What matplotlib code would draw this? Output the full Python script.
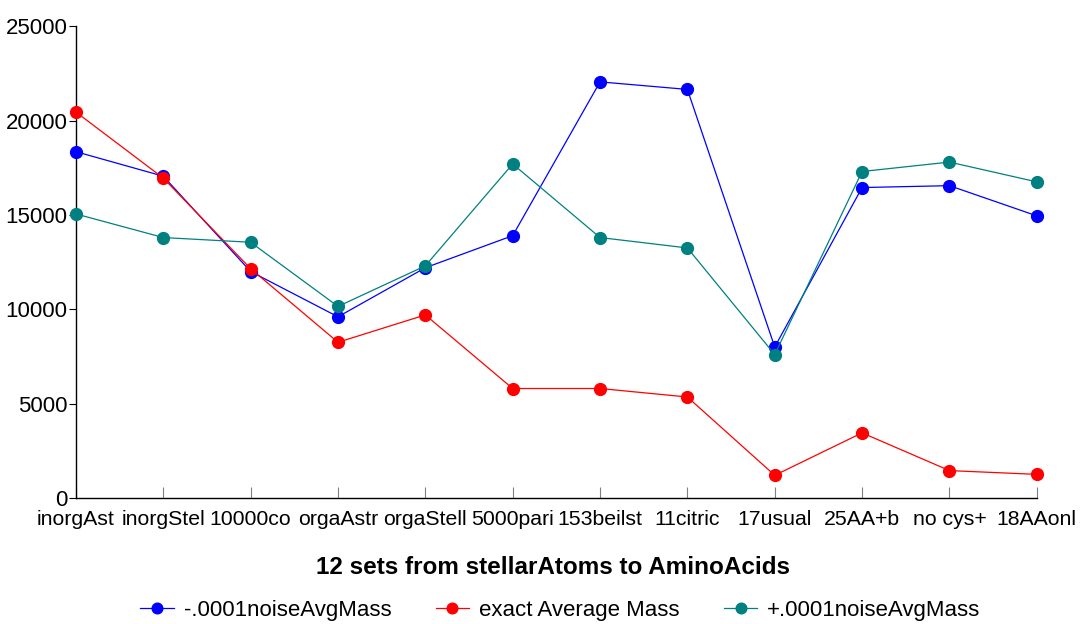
import matplotlib
matplotlib.use("Agg")
import matplotlib.pyplot as plt

categories = ["inorgAst", "inorgStel", "10000co", "orgaAstr", "orgaStell", "5000pari",
              "153beilst", "11citric", "17usual", "25AA+b", "no cys+", "18AAonl"]
minus_noise = [18350, 17050, 12000, 9600, 12200, 13900, 22050, 21650, 8000, 16450, 16550, 14950]
exact_avg = [20450, 16950, 12150, 8250, 9700, 5800, 5800, 5350, 1200, 3450, 1450, 1250]
plus_noise = [15050, 13800, 13550, 10150, 12300, 17700, 13800, 13250, 7600, 17300, 17800, 16750]
series_names = ["-.0001noiseAvgMass", "exact Average Mass", "+.0001noiseAvgMass"]
yticks = [0, 5000, 10000, 15000, 20000, 25000]

plt.rcParams['font.family'] = ['Liberation Sans', 'DejaVu Sans']

fig = plt.figure(figsize=(10.82, 6.24), dpi=100)
ax = fig.add_axes([0.0702, 0.202, 0.888, 0.756])

x = list(range(len(categories)))
colors = ["#0000ff", "#ff0000", "#008080"]
for vals, name, c in zip([minus_noise, exact_avg, plus_noise], series_names, colors):
    ax.plot(x, vals, color=c, lw=0.9, marker='o', markersize=8.5, label=name, clip_on=False, zorder=3)

ax.set_xlim(0, len(categories) - 1)
ax.set_ylim(0, 25000)
ax.set_yticks(yticks)
ax.set_yticklabels([str(v) for v in yticks], fontsize=16)
ax.set_xticks(x)
ax.set_xticklabels(categories, fontsize=15.3)
ax.tick_params(axis='x', direction='in', length=8, color='#808080', pad=9)
ax.tick_params(axis='y', direction='out', length=5, color='black', pad=1)
for s in ['top', 'right']:
    ax.spines[s].set_visible(False)
for s in ['left', 'bottom']:
    ax.spines[s].set_color('black')
    ax.spines[s].set_linewidth(1.0)

fig.text(0.511, 0.091, "12 sets from stellarAtoms to AminoAcids", ha='center', va='center',
         fontsize=17.5, fontweight='bold')

leg = fig.legend(loc='center', bbox_to_anchor=(0.518, 0.022), ncol=3, frameon=False,
                 fontsize=16, handlelength=1.5, handletextpad=0.45, columnspacing=2.0,
                 markerscale=0.9, borderpad=0.1)

fig.savefig("out.png", dpi=100)
